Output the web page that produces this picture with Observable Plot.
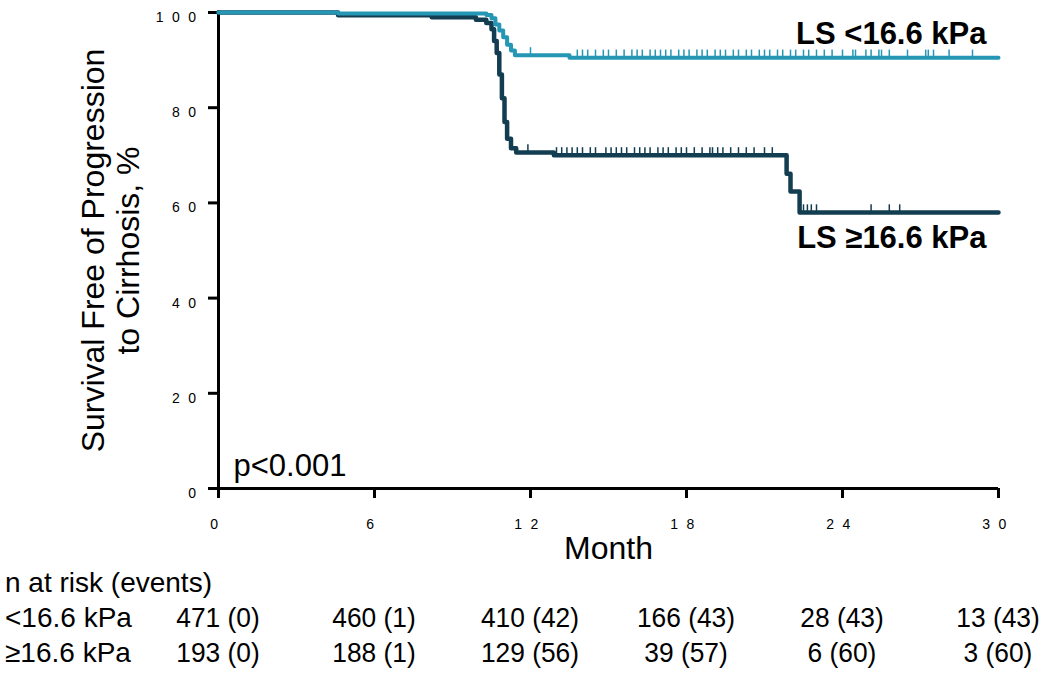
<!DOCTYPE html>
<html><head><meta charset="utf-8">
<script src="https://cdn.jsdelivr.net/npm/d3@7"></script>
<script src="https://cdn.jsdelivr.net/npm/@observablehq/plot@0.6"></script>
<style>
html,body{margin:0;padding:0;background:#fff;}
#wrap{position:relative;width:1050px;height:674px;font-family:"Liberation Sans",Arial,sans-serif;overflow:hidden;}
#wrap svg{display:block;}
g[aria-label="y-axis tick label"] text, g[aria-label="x-axis tick label"] text{letter-spacing:8.5px;}
.risk{position:absolute;font-size:28px;line-height:28px;white-space:nowrap;color:#000;transform-origin:left center;}
.riskc{transform:translateX(-50%) scaleX(0.94);transform-origin:center center;}
</style></head><body><div id="wrap"></div>
<script>
// Kaplan-Meier step points (month, % free of progression)
const lowTimes  = [0, 4.6, 10.3, 10.5, 10.65, 10.8, 10.95, 11.1, 11.25, 11.4, 13.5, 30];
const lowSurv   = [100, 99.8, 99.5, 98.8, 97.5, 96.2, 94.8, 93.2, 92.0, 91.0, 90.5, 90.5];
const highTimes = [0, 4.6, 8.2, 9.9, 10.3, 10.5, 10.6, 10.7, 10.8, 10.9, 11.0, 11.1, 11.25, 11.45, 12.9, 21.85, 22.0, 22.35, 30];
const highSurv  = [100, 99.4, 99.0, 98.5, 97.8, 96.5, 94.0, 91.5, 87.0, 82.0, 77.0, 73.5, 71.5, 70.6, 70.0, 66.1, 62.4, 58.0, 58.0];
// censoring marks (months)
const lowCensor  = [12.0, 13.8, 14.0, 14.2, 14.5, 14.8, 15.0, 15.3, 15.6, 15.9, 16.1, 16.3, 16.6, 16.8, 17.0, 17.2, 17.4, 17.7, 17.9, 18.1, 18.4, 18.6, 18.8, 19.1, 19.3, 19.5, 19.8, 20.0, 20.3, 20.5, 20.8, 21.0, 21.2, 21.5, 21.7, 22.0, 22.2, 22.5, 22.7, 23.0, 23.3, 23.6, 24.0, 24.4, 24.5, 24.9, 25.1, 25.4, 25.5, 25.8, 26.5, 27.2, 27.3, 27.5, 28.1, 29.0];
const highCensor = [11.9, 13.0, 13.2, 13.4, 13.6, 13.8, 14.0, 14.3, 14.5, 14.9, 15.1, 15.3, 15.5, 15.7, 16.0, 16.2, 16.4, 16.6, 16.9, 17.1, 17.3, 17.6, 17.8, 18.0, 18.3, 18.6, 18.9, 19.0, 19.2, 19.4, 19.7, 20.0, 20.3, 20.6, 21.0, 21.3, 22.5, 22.65, 22.8, 23.0, 25.1, 25.8, 26.2];
const xTicks = [0, 6, 12, 18, 24, 30];
const yTicks = [0, 20, 40, 60, 80, 100];
const groupLabels = ["LS <16.6 kPa", "LS \u226516.6 kPa"];
const riskHeader = "n at risk (events)";
const riskRowLabels = ["<16.6 kPa", "\u226516.6 kPa"];
const riskTimes = [0, 6, 12, 18, 24, 30];
const riskLow  = ["471 (0)", "460 (1)", "410 (42)", "166 (43)", "28 (43)", "13 (43)"];
const riskHigh = ["193 (0)", "188 (1)", "129 (56)", "39 (57)", "6 (60)", "3 (60)"];
const colors = ["#2596b4", "#133d51"];

const toRows = (T, S) => T.map((t, i) => ({t, s: S[i]}));
const survAt = (T, S, t) => S[Math.max(0, d3.bisectRight(T, t) - 1)];
const lowData = toRows(lowTimes, lowSurv);
const highData = toRows(highTimes, highSurv);
const lowCens = lowCensor.map(t => ({t, s: survAt(lowTimes, lowSurv, t)}));
const highCens = highCensor.map(t => ({t, s: survAt(highTimes, highSurv, t)}));
const lowEnd = [{...lowData[lowData.length - 1], label: groupLabels[0]}];
const highEnd = [{...highData[highData.length - 1], label: groupLabels[1]}];

const chart = Plot.plot({
  width: 1050, height: 565,
  marginLeft: 218, marginRight: 52, marginTop: 12, marginBottom: 77,
  style: {fontFamily: '"Liberation Sans", Arial, sans-serif', color: "#000", background: "#fff"},
  x: {domain: [0, 30]},
  y: {domain: [0, 100]},
  marks: [
    Plot.axisY(yTicks, {tickSize: 10, strokeWidth: 3, fill: "none", label: null}),
    Plot.axisY(yTicks, {tickSize: 10, tickPadding: 4, stroke: "none", dy: 5, fontSize: 14, fill: "#000", label: null}),
    Plot.axisX(xTicks, {tickSize: 10, tickPadding: 21, strokeWidth: 3, fontSize: 14, fill: "#000", label: null}),
    Plot.ruleY([0], {strokeWidth: 3}),
    Plot.ruleX([0], {strokeWidth: 3, strokeLinecap: "square"}),
    Plot.line(highData, {x: "t", y: "s", curve: "step-after", stroke: colors[1], strokeWidth: 4.5}),
    Plot.ruleX(highCens, {x: "t", y1: "s", y2: d => d.s + 1.6, stroke: colors[1], strokeWidth: 1.5}),
    Plot.line(lowData, {x: "t", y: "s", curve: "step-after", stroke: colors[0], strokeWidth: 4}),
    Plot.ruleX(lowCens, {x: "t", y1: "s", y2: d => d.s + 1.6, stroke: colors[0], strokeWidth: 1.5}),
    Plot.text(lowEnd, {x: "t", y: "s", text: "label", textAnchor: "end", lineAnchor: "bottom", dx: -12, dy: -14, fontSize: 31, fontWeight: "bold", fill: "#000"}),
    Plot.text(highEnd, {x: "t", y: "s", text: "label", textAnchor: "end", lineAnchor: "bottom", dx: -12, dy: 36, fontSize: 31, fontWeight: "bold", fill: "#000"}),
    Plot.text(["p<0.001"], {text: d => d, frameAnchor: "bottom-left", textAnchor: "start", lineAnchor: "bottom", dx: 15, dy: -13, fontSize: 31}),
    Plot.text(["Month"], {text: d => d, frameAnchor: "bottom", lineAnchor: "middle", dy: 60, fontSize: 32}),
    Plot.text(["Survival Free of Progression\nto Cirrhosis, %"], {text: d => d, frameAnchor: "left", rotate: -90, textAnchor: "middle", lineAnchor: "middle", dx: -108, fontSize: 32, lineHeight: 1.1})
  ]
});
const wrap = document.getElementById("wrap");
wrap.appendChild(chart);

const xs = chart.scale("x");
function addText(txt, left, top, centered) {
  const el = document.createElement("div");
  el.className = "risk" + (centered ? " riskc" : "");
  el.textContent = txt;
  el.style.left = left + "px";
  el.style.top = top + "px";
  wrap.appendChild(el);
}
const rowTops = [569, 604, 639];
addText(riskHeader, 5, rowTops[0], false);
[riskLow, riskHigh].forEach((row, r) => {
  addText(riskRowLabels[r], 5, rowTops[r + 1], false);
  row.forEach((v, i) => addText(v, xs.apply(riskTimes[i]), rowTops[r + 1], true));
});
</script></body></html>
